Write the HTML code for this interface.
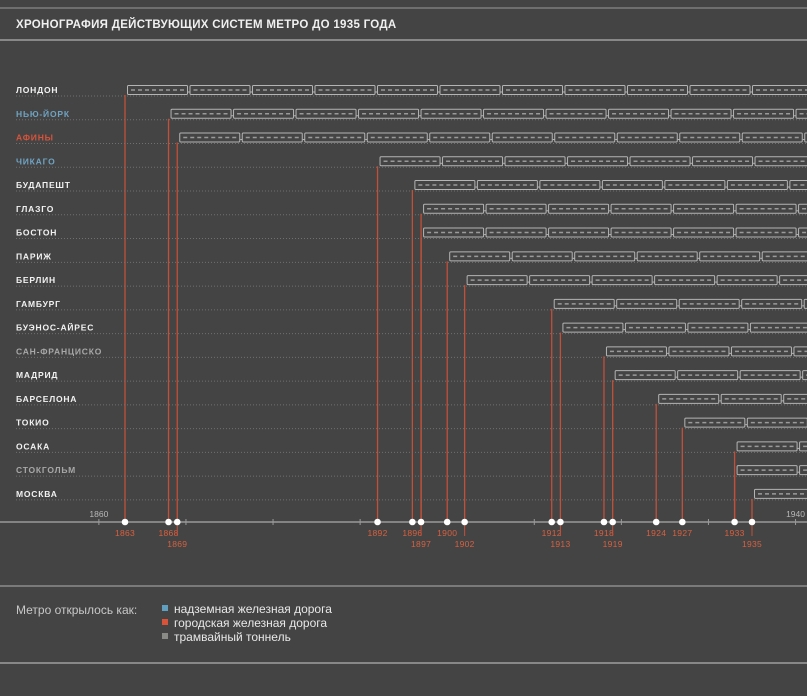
<!DOCTYPE html>
<html><head><meta charset="utf-8">
<style>
html,body{margin:0;padding:0;background:#444444;width:807px;height:696px;overflow:hidden;font-family:"Liberation Sans","DejaVu Sans",sans-serif}
svg{display:block}
</style></head>
<body>
<svg id="chart" width="807" height="696" xmlns="http://www.w3.org/2000/svg">
<rect width="807" height="696" fill="#444444"/>
<line x1="0" y1="8" x2="807" y2="8" stroke="#9a9a9a" stroke-width="1"/>
<text x="16" y="28" fill="#f0f0f0" font-size="11.5" font-weight="bold" letter-spacing="0.3">ХРОНОГРАФИЯ ДЕЙСТВУЮЩИХ СИСТЕМ МЕТРО ДО 1935 ГОДА</text>
<line x1="0" y1="40" x2="807" y2="40" stroke="#b0b0b0" stroke-width="1.2"/>
<g id="rows"></g>
<g id="axis"></g>
<line x1="0" y1="586" x2="807" y2="586" stroke="#b0b0b0" stroke-width="1"/>
<text x="16" y="614" fill="#c8c8c8" font-size="12">Метро открылось как:</text>
<g><rect x="162" y="605" width="6" height="6" fill="#5f9fc0"/><text x="174" y="613" fill="#e8e8e8" font-size="12">надземная железная дорога</text></g>
<g><rect x="162" y="619" width="6" height="6" fill="#d9533a"/><text x="174" y="627" fill="#e8e8e8" font-size="12">городская железная дорога</text></g>
<g><rect x="162" y="633" width="6" height="6" fill="#8a8a86"/><text x="174" y="641" fill="#e8e8e8" font-size="12">трамвайный тоннель</text></g>
<line x1="0" y1="663" x2="807" y2="663" stroke="#b0b0b0" stroke-width="1.2"/>
</svg>
<script>
const cities = ["ЛОНДОН","НЬЮ-ЙОРК","АФИНЫ","ЧИКАГО","БУДАПЕШТ","ГЛАЗГО","БОСТОН","ПАРИЖ","БЕРЛИН","ГАМБУРГ","БУЭНОС-АЙРЕС","САН-ФРАНЦИСКО","МАДРИД","БАРСЕЛОНА","ТОКИО","ОСАКА","СТОКГОЛЬМ","МОСКВА"];
const openYears = [1863,1868,1869,1892,1896,1897,1897,1900,1902,1912,1913,1918,1919,1924,1927,1933,1933,1935];
const types = ["city","elevated","city","elevated","city","city","city","city","city","city","city","tram","city","city","city","city","tram","city"];
const axisTicks = [1860,1870,1880,1890,1900,1910,1920,1930,1940];
const labeledYears = [1863,1868,1869,1892,1896,1897,1900,1902,1912,1913,1918,1919,1924,1927,1933,1935];
const lowLabels = [1869,1897,1902,1913,1919,1935];

const NS="http://www.w3.org/2000/svg";
const x = y => 125 + (y-1863)*(627/72);
const rowY = i => 89 + i*23.76;
const axisY = 522;
const labelColor = {city:"#f2f2f2",elevated:"#6fa3c2",tram:"#a8a8a8"};
function mk(tag,attrs,parent){const e=document.createElementNS(NS,tag);for(const k in attrs)e.setAttribute(k,attrs[k]);parent.appendChild(e);return e;}
const rows=document.getElementById('rows'), axis=document.getElementById('axis');

cities.forEach((c,i)=>{
  const y=rowY(i), xs=x(openYears[i]);
  const g=mk('g',{},rows);
  
  
  const dl=mk('line',{x1:16,y1:y+7,x2:807,y2:y+7,stroke:"#707070",'stroke-width':1,'stroke-dasharray':"1 2"},g);
  
  
  const col = c==="АФИНЫ"?"#d9533a":labelColor[types[i]];
  const t=mk('text',{x:16,y:y+4,fill:col,'font-size':8.5,'font-weight':'bold','letter-spacing':0.8},g);
  t.textContent=c;
  
  
  const st=mk('line',{x1:xs,y1:y+6,x2:xs,y2:axisY,stroke:"#c0503a",'stroke-width':1.3},g);
  
  
  const tr=mk('g',{},g);
  
  
  let wx=xs+2;
  while(wx<807){
    mk('rect',{x:wx+0.5,y:y-3.5,width:60,height:9,fill:"none",stroke:"#b4b4b4",'stroke-width':1,rx:1},tr);
    mk('line',{x1:wx+4,y1:y+1,x2:wx+57,y2:y+1,stroke:"#9a9a9a",'stroke-width':1.5,'stroke-dasharray':"4 3"},tr);
    mk('line',{x1:wx+61,y1:y+3,x2:wx+63,y2:y+3,stroke:"#b4b4b4",'stroke-width':1},tr);
    wx+=62.5;
  }
});

const al=mk('line',{x1:0,y1:axisY,x2:807,y2:axisY,stroke:"#9a9a9a",'stroke-width':1.5},axis);


axisTicks.forEach(yr=>{
  const tk=mk('line',{x1:x(yr),y1:axisY-3,x2:x(yr),y2:axisY+3,stroke:"#9a9a9a",'stroke-width':1},axis);
  
  
});
[1860,1940].forEach(yr=>{
  const t=mk('text',{x:x(yr),y:axisY-5,fill:"#b8b8b8",'font-size':8.5,'text-anchor':'middle'},axis);
  t.textContent=yr;
  
  
});
labeledYears.forEach(yr=>{
  const low=lowLabels.includes(yr);
  if(low){const l=mk('line',{x1:x(yr),y1:axisY,x2:x(yr),y2:axisY+14,stroke:"#c0503a",'stroke-width':1},axis);}
  const d=mk('circle',{cx:x(yr),cy:axisY,r:3.3,fill:"#ffffff"},axis);
  
  
  const t=mk('text',{x:x(yr),y:low?axisY+25:axisY+14,fill:"#d9603f",'font-size':8.5,'text-anchor':'middle','letter-spacing':0.3},axis);
  t.textContent=yr;
  
  
});
</script>
</body></html>
